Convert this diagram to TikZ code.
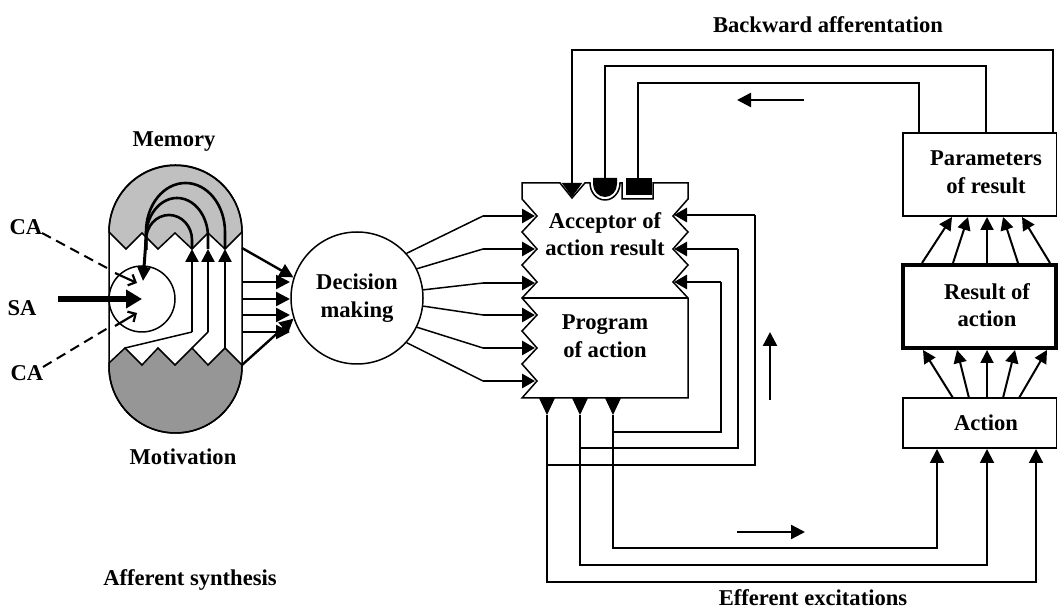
\documentclass[tikz,border=0pt]{standalone}
\usepackage{fontspec}
\setmainfont{Liberation Serif}
\usetikzlibrary{arrows.meta}
\definecolor{memgray}{HTML}{C0C0C0}
\definecolor{motgray}{HTML}{969696}
\begin{document}
\begin{tikzpicture}[x=0.5pt,y=-0.5pt,
  lbl/.style={font=\fontsize{11.3}{13.8}\selectfont\bfseries, align=center, inner sep=0pt},
  lnthin/.style={line width=0.75pt},
  lnmed/.style={line width=1pt},
  arrthick/.style={line width=1.4pt,-{Triangle[length=6.5pt,width=7pt]}},
  arrmed/.style={line width=1pt,-{Triangle[length=6.5pt,width=6.5pt]}},
  arrflow/.style={line width=1.2pt,-{Triangle[length=7pt,width=7pt]}},
  caarrow/.style={line width=1.1pt,-{Straight Barb[length=3pt,width=6pt]}},
  cadash/.style={line width=1pt,dash pattern=on 5pt off 3pt},
]
\useasboundingbox (0,0) rectangle (1058,613);

% ---------------- afferent synthesis capsule ----------------
\fill[white] (109,231.5) arc[start angle=180,end angle=360,radius=66.5] -- (242,366.5) arc[start angle=0,end angle=180,radius=66.5] -- cycle;
\filldraw[fill=memgray, draw=black, lnthin] (109,232) arc[start angle=180,end angle=360,radius=66.5]
  -- (225,249) -- (208,233) -- (192,249) -- (175,233) -- (158,249) -- (142,233) -- (126,249) -- cycle;
\filldraw[fill=motgray, draw=black, lnthin] (109,363) -- (125,348) -- (142,365) -- (158,348) -- (175,365) -- (192,348) -- (208,365) -- (225,348) -- (242,365)
  -- (242,366.5) arc[start angle=0,end angle=180,radius=66.5] -- cycle;
\draw[lnthin] (109,231.5) arc[start angle=180,end angle=360,radius=66.5] -- (242,366.5) arc[start angle=0,end angle=180,radius=66.5] -- cycle;

\node[circle, draw, lnthin, fill=white, minimum size=33pt, inner sep=0pt] (sc) at (142,299) {};

% channels
\draw[lnthin] (125,348) -- (192,332);
\draw[lnthin] (192,348) -- (208,332);
\draw[arrmed, line width=1.2pt] (192,332) -- (192,249);
\draw[arrmed, line width=1.2pt] (208,332) -- (208,249);
\draw[arrmed, line width=1.2pt] (225,348) -- (225,249);

% memory arcs
\draw[line width=1.3pt] (192,249) -- (192,240) arc[start angle=0,end angle=-180,x radius=23,y radius=25] -- (146,250);
\draw[line width=1.3pt] (208,249) -- (208,237) arc[start angle=0,end angle=-180,x radius=31,y radius=39] -- (146,250);
\draw[line width=1.3pt] (225,249) -- (225,232) arc[start angle=0,end angle=-180,x radius=39.5,y radius=49] -- (146,250);
\draw[line width=1.5pt,-{Triangle[length=7pt,width=6.5pt]}] (146,240) -- (143,281);

% inputs
\node[lbl] (ca1) at (26,227) {CA};
\node[lbl] (sa) at (22,308) {SA};
\node[lbl] (ca2) at (27,373) {CA};
\draw[line width=3pt,-{Triangle[length=8pt,width=9pt]}] (58,299) -- (sc.center);
\draw[cadash] (42,233) -- (107,268);
\draw[caarrow] (115,273) -- (137,283);
\draw[cadash] (43,367) -- (108,328);
\draw[caarrow] (115,326) -- (137,313);

\node[lbl] (mem) at (174,142) {Memory};
\node[lbl] (mot) at (183,457) {Motivation};
\node[lbl] (aff) at (190,580) {Afferent synthesis};

% ---------------- decision making ----------------
\node[circle, draw, lnthin, minimum size=66pt, inner sep=0pt, lbl] (dm) at (357,298) {Decision\\making};
\draw[arrflow] (242,248) -- (dm.162);
\draw[arrflow] (242,282) -- (290,282);
\draw[arrflow] (242,299) -- (290,299);
\draw[arrflow] (242,315) -- (290,315);
\draw[arrflow] (242,332) -- (290,332);
\draw[arrflow] (242,365) -- (dm.198);

% ---------------- acceptor / program box ----------------
\draw[lnthin, fill=white] (522,183) -- (560,183) -- (572,198) -- (585,183) -- (590,183)
  arc[start angle=180,end angle=0,x radius=15,y radius=17] -- (622,183) -- (622,199) -- (653,199) -- (653,183) -- (688,183)
  -- (688,199) -- (673,216) -- (688,232) -- (673,249) -- (688,265) -- (673,282) -- (688,298) -- (688,398)
  -- (522,398) -- (537,381) -- (522,364) -- (537,348) -- (522,331) -- (537,315) -- (522,298) -- (537,282)
  -- (522,265) -- (537,249) -- (522,232) -- (537,216) -- (522,199) -- cycle;
\draw[lnthin] (522,298) -- (688,298);
\node[lbl] (acc) at (605,234) {Acceptor of\\action result};
\node[lbl] (prog) at (605,336) {Program\\of action};

% decision -> box
\foreach \a/\y in {42/216, 26.6/249, 7.8/283, -7.8/315, -26.6/348, -42/381}{
  \draw[lnthin] (dm.\a) -- (483,\y);
  \draw[arrthick] (483,\y) -- (535,\y);
}

% top notches
\fill (593,178) -- (593,184) arc[start angle=180,end angle=0,x radius=12,y radius=13] -- (617,178) -- cycle;
\fill (626,178) rectangle (652,195);

% backward afferentation
\draw[lnthin] (903,133) rectangle (1056.5,216);
\draw[lnmed,-{Triangle[length=7pt,width=10pt]}] (1053,133) -- (1053,50) -- (572,50) -- (572,197);
\draw[lnmed] (986,133) -- (986,66) -- (605,66) -- (605,178);
\draw[lnmed] (919,133) -- (919,83) -- (638,83) -- (638,178);
\draw[line width=1.2pt,-{Triangle[length=7pt,width=7pt]}] (804,100) -- (737,100);
\node[lbl] (bwd) at (828,25) {Backward afferentation};

% program outputs
\fill (539,398) -- (555,398) -- (547,415) -- cycle;
\fill (572,398) -- (588,398) -- (580,415) -- cycle;
\fill (605,398) -- (621,398) -- (613,415) -- cycle;

% collaterals to acceptor
\draw[lnthin] (547,465) -- (755,465) -- (755,215);
\draw[arrthick] (755,215) -- (674,215);
\draw[lnthin] (580,448) -- (738,448) -- (738,249);
\draw[arrthick] (738,249) -- (674,249);
\draw[lnthin] (613,432) -- (721,432) -- (721,282);
\draw[arrthick] (721,282) -- (674,282);

% right column
\node[lbl] (par) at (986,172) {Parameters\\of result};
\draw[line width=2pt] (903,265) rectangle (1056,348);
\node[lbl] (res) at (987,305) {Result of\\action};
\draw[lnthin] (903,398) rectangle (1056.5,448);
\node[lbl] (act) at (986,423) {Action};

% efferent excitations
\draw[lnmed,-{Triangle[length=7pt,width=7pt]}] (547,415) -- (547,582) -- (1036,582) -- (1036,449);
\draw[lnmed,-{Triangle[length=7pt,width=7pt]}] (580,415) -- (580,565) -- (987,565) -- (987,449);
\draw[lnmed,-{Triangle[length=7pt,width=7pt]}] (613,415) -- (613,548) -- (937,548) -- (937,449);
\draw[line width=1.2pt,-{Triangle[length=7pt,width=7pt]}] (737,532) -- (805,532);
\draw[line width=1.2pt,-{Triangle[length=7pt,width=7pt]}] (770,400) -- (770,332);
\node[lbl] (eff) at (813,598) {Efferent excitations};

% action -> result
\draw[arrmed] (953,398) -- (923,350);
\draw[arrmed] (969,398) -- (957,350);
\draw[arrmed] (987,398) -- (987,350);
\draw[arrmed] (1003,398) -- (1015,350);
\draw[arrmed] (1019,398) -- (1047,350);
% result -> parameters
\draw[arrmed] (922,263) -- (952,217);
\draw[arrmed] (953,263) -- (968,217);
\draw[arrmed] (987,263) -- (987,217);
\draw[arrmed] (1018,263) -- (1003,217);
\draw[arrmed] (1050,263) -- (1022,217);
\end{tikzpicture}
\end{document}
